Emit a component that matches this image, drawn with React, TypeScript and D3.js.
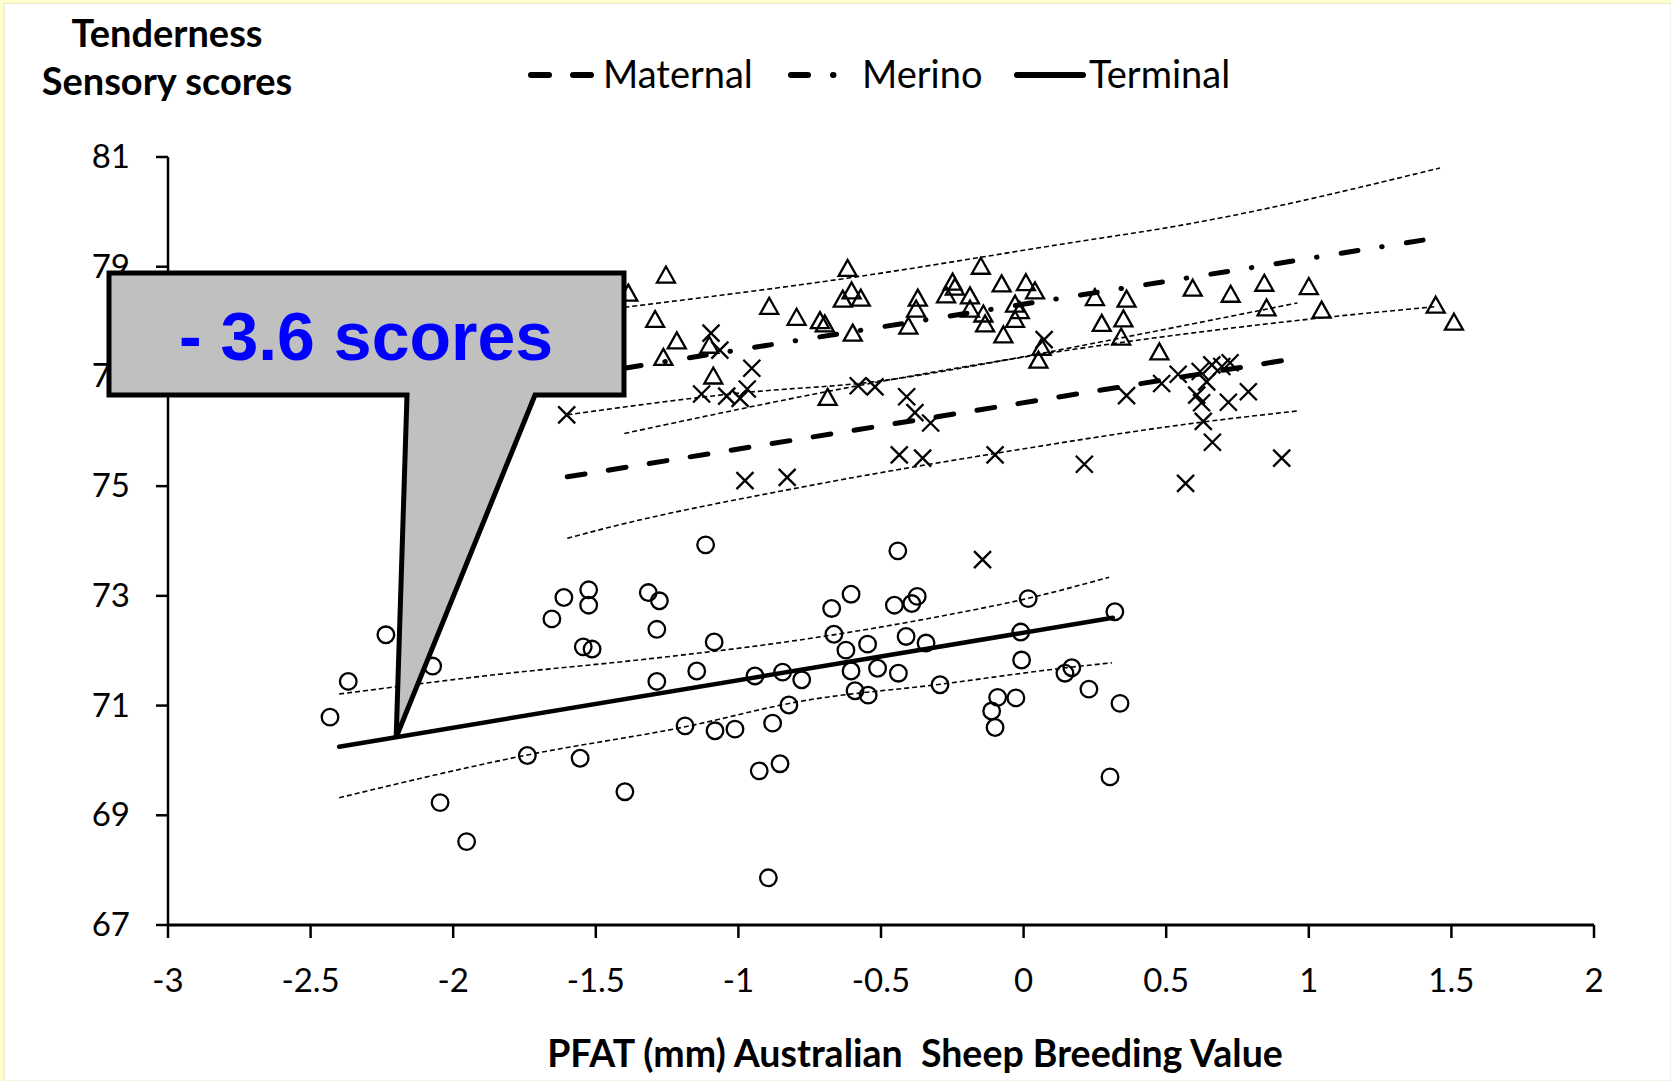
import React from "react";
import * as d3 from "d3";

// ---------- data ----------
const xTicks = [-3, -2.5, -2, -1.5, -1, -0.5, 0, 0.5, 1, 1.5, 2];
const yTicks = [67, 69, 71, 73, 75, 77, 79, 81];

// Terminal (circles)
const terminalPts: [number, number][] = [
  [-2.432, 70.79], [-2.368, 71.44], [-2.236, 72.29], [-2.072, 71.72], [-2.046, 69.23],
  [-1.953, 68.52], [-1.74, 70.09], [-1.654, 72.58], [-1.612, 72.97], [-1.555, 70.04],
  [-1.544, 72.07], [-1.525, 73.11], [-1.525, 72.83], [-1.513, 72.03], [-1.398, 69.43],
  [-1.316, 73.06], [-1.286, 72.39], [-1.286, 71.44], [-1.277, 72.91], [-1.187, 70.63],
  [-1.146, 71.63], [-1.115, 73.93], [-1.085, 72.16], [-1.082, 70.54], [-1.012, 70.57],
  [-0.942, 71.54], [-0.927, 69.81], [-0.895, 67.86], [-0.88, 70.68], [-0.854, 69.94],
  [-0.845, 71.61], [-0.823, 71.01], [-0.778, 71.47], [-0.673, 72.77], [-0.665, 72.3],
  [-0.623, 72.01], [-0.605, 73.03], [-0.605, 71.63], [-0.591, 71.27], [-0.547, 72.12],
  [-0.545, 71.19], [-0.512, 71.68], [-0.453, 72.83], [-0.441, 73.82], [-0.439, 71.59],
  [-0.412, 72.26], [-0.392, 72.86], [-0.373, 72.99], [-0.342, 72.14], [-0.293, 71.38],
  [-0.112, 70.9], [-0.1, 70.6], [-0.091, 71.15], [-0.027, 71.14], [-0.01, 72.34],
  [-0.007, 71.83], [0.016, 72.95], [0.145, 71.59], [0.169, 71.69], [0.229, 71.3],
  [0.303, 69.7], [0.32, 72.71], [0.338, 71.04],
];

// Maternal (crosses)
const maternalPts: [number, number][] = [
  [-1.602, 76.3], [-1.096, 77.79], [-1.065, 77.48], [-0.953, 77.15], [-1.129, 76.68],
  [-1.041, 76.64], [-0.994, 76.6], [-0.969, 76.77], [-0.58, 76.83], [-0.521, 76.81],
  [-0.41, 76.63], [-0.381, 76.34], [-0.326, 76.15], [-0.977, 75.1], [-0.829, 75.16],
  [-0.436, 75.57], [-0.354, 75.51], [-0.1, 75.57], [0.072, 77.67], [-0.144, 73.66],
  [0.361, 76.65], [0.213, 75.4], [0.484, 76.87], [0.542, 77.04], [0.619, 77.09],
  [0.642, 76.9], [0.607, 76.66], [0.624, 76.52], [0.66, 77.21], [0.695, 77.18],
  [0.724, 77.25], [0.718, 76.53], [0.788, 76.72], [0.63, 76.18], [0.662, 75.8],
  [0.568, 75.05], [0.905, 75.51],
];

// Merino (triangles)
const merinoPts: [number, number][] = [
  [-1.386, 78.5], [-1.254, 78.83], [-1.292, 78.02], [-1.216, 77.63], [-1.263, 77.33],
  [-1.102, 77.55], [-1.088, 76.99], [-0.892, 78.26], [-0.796, 78.06], [-0.714, 78.0],
  [-0.697, 77.94], [-0.617, 78.95], [-0.603, 78.54], [-0.634, 78.39], [-0.571, 78.41],
  [-0.599, 77.77], [-0.687, 76.6], [-0.371, 78.41], [-0.377, 78.21], [-0.404, 77.9],
  [-0.249, 78.7], [-0.241, 78.61], [-0.272, 78.47], [-0.15, 78.99], [-0.188, 78.45],
  [-0.188, 78.21], [-0.141, 78.12], [-0.135, 77.94], [-0.077, 78.67], [0.008, 78.69],
  [0.04, 78.54], [-0.03, 78.3], [-0.013, 78.18], [-0.03, 78.02], [-0.071, 77.74],
  [0.052, 77.28], [0.063, 77.51], [0.25, 78.42], [0.361, 78.39], [0.274, 77.95],
  [0.35, 78.03], [0.342, 77.7], [0.476, 77.43], [0.593, 78.59], [0.726, 78.48],
  [0.844, 78.68], [0.852, 78.23], [1.0, 78.62], [1.045, 78.19], [1.445, 78.28],
  [1.509, 77.97],
];

// Regression lines
const terminalLine: [number, number][] = [[-2.4, 70.25], [0.313, 72.6]];
const maternalLine: [number, number][] = [[-1.6, 75.17], [0.969, 77.34]];
const merinoLine: [number, number][] = [[-1.4, 77.15], [1.467, 79.54]];

// Confidence bands
const terminalUpper: [number, number][] = [[-2.4, 71.21], [-1.84, 71.57], [-1.3, 71.86], [-0.78, 72.2], [-0.3, 72.62], [0.02, 72.96], [0.3, 73.34]];
const terminalLower: [number, number][] = [[-2.4, 69.32], [-1.74, 70.1], [-1.19, 70.61], [-0.78, 71.08], [-0.29, 71.39], [0.15, 71.69], [0.31, 71.78]];
const maternalUpper: [number, number][] = [[-1.6, 76.3], [-0.99, 76.7], [-0.53, 76.9], [-0.01, 77.35], [0.34, 77.7], [0.96, 78.34]];
const maternalLower: [number, number][] = [[-1.6, 74.05], [-1.46, 74.24], [-0.78, 74.98], [-0.06, 75.63], [0.63, 76.17], [0.96, 76.37]];
const merinoUpper: [number, number][] = [[-1.4, 78.26], [-0.62, 78.79], [0.12, 79.4], [0.6, 79.8], [1.46, 80.8]];
const merinoLower: [number, number][] = [[-1.4, 75.96], [-0.53, 76.88], [0.12, 77.45], [1.03, 78.06], [1.44, 78.27]];

const legendLabels = ["Maternal", "Merino", "Terminal"];
const calloutText = "- 3.6 scores";
const calloutTip: [number, number] = [-2.2, 70.42];

// ---------- layout ----------
const W = 1671;
const H = 1081;
const X = d3.scaleLinear().domain([-3, 2]).range([168, 1594]);
const Y = d3.scaleLinear().domain([67, 81]).range([925, 157]);

const lineGen = d3.line<[number, number]>().x((d) => X(d[0])).y((d) => Y(d[1]));
const bandGen = d3
  .line<[number, number]>()
  .x((d) => X(d[0]))
  .y((d) => Y(d[1]))
  .curve(d3.curveMonotoneX);

const LATO = "Lato, 'Open Sans', sans-serif";
const MAT_DASH = "18 23.5";
const MER_DASH = "17 24 0.5 24.5";
const BAND_DASH = "5 3";

export default function App() {
  const bands = [terminalUpper, terminalLower, maternalUpper, maternalLower, merinoUpper, merinoLower];
  const [tx, ty] = [X(calloutTip[0]), Y(calloutTip[1])];
  const calloutPath = `M109,273 H624 V395 H535 L${tx},${ty} L407,395 H109 Z`;

  return (
    <div style={{ position: "absolute", left: 0, top: 0 }}>
      <svg width={W} height={H} style={{ display: "block" }}>
        <rect x={0} y={0} width={W} height={H} fill="#ffffcc" />
        <rect x={4} y={3.5} width={W - 4} height={H - 3.5} fill="#ffffff" stroke="#e6e6c8" strokeWidth={1} />

        {/* confidence bands */}
        {bands.map((b, i) => (
          <path key={i} d={bandGen(b) || ""} fill="none" stroke="#000" strokeWidth={1.6} strokeDasharray={BAND_DASH} />
        ))}

        {/* regression lines */}
        <path d={lineGen(maternalLine) || ""} fill="none" stroke="#000" strokeWidth={5} strokeDasharray={MAT_DASH} strokeLinecap="round" />
        <path d={lineGen(merinoLine) || ""} fill="none" stroke="#000" strokeWidth={5} strokeDasharray={MER_DASH} strokeLinecap="round" />
        <path d={lineGen(terminalLine) || ""} fill="none" stroke="#000" strokeWidth={4.5} strokeLinecap="round" />

        {/* markers */}
        {terminalPts.map((d, i) => (
          <circle key={`c${i}`} cx={X(d[0])} cy={Y(d[1])} r={8.3} fill="none" stroke="#000" strokeWidth={2.3} />
        ))}
        {maternalPts.map((d, i) => {
          const cx = X(d[0]);
          const cy = Y(d[1]);
          return (
            <path key={`x${i}`} d={`M${cx - 8.5},${cy - 8.5}L${cx + 8.5},${cy + 8.5}M${cx - 8.5},${cy + 8.5}L${cx + 8.5},${cy - 8.5}`} stroke="#000" strokeWidth={2.3} fill="none" />
          );
        })}
        {merinoPts.map((d, i) => {
          const cx = X(d[0]);
          const cy = Y(d[1]);
          return (
            <path key={`t${i}`} d={`M${cx},${cy - 9.5}L${cx + 9},${cy + 6.5}L${cx - 9},${cy + 6.5}Z`} stroke="#000" strokeWidth={2.3} fill="none" />
          );
        })}

        {/* axes */}
        <line x1={X(-3)} x2={X(-3)} y1={Y(81)} y2={Y(67)} stroke="#000" strokeWidth={2.5} />
        <line x1={X(-3)} x2={X(2)} y1={Y(67)} y2={Y(67)} stroke="#000" strokeWidth={3} />
        {yTicks.map((t) => (
          <g key={`yt${t}`}>
            <line x1={X(-3) - 12} x2={X(-3)} y1={Y(t)} y2={Y(t)} stroke="#000" strokeWidth={2.5} />
            <text x={130} y={Y(t) + 11} textAnchor="end" fontFamily={LATO} fontSize={33} fill="#000">
              {String(t)}
            </text>
          </g>
        ))}
        {xTicks.map((t) => (
          <g key={`xt${t}`}>
            <line x1={X(t)} x2={X(t)} y1={Y(67)} y2={Y(67) + 13} stroke="#000" strokeWidth={2.5} />
            <text x={X(t)} y={992} textAnchor="middle" fontFamily={LATO} fontSize={33} fill="#000">
              {String(t)}
            </text>
          </g>
        ))}

        {/* titles */}
        <text x={167} y={47} textAnchor="middle" fontFamily={LATO} fontWeight="bold" fontSize={38} fill="#000">
          Tenderness
        </text>
        <text x={167} y={95} textAnchor="middle" fontFamily={LATO} fontWeight="bold" fontSize={38} fill="#000">
          Sensory scores
        </text>
        <text x={915} y={1067} textAnchor="middle" fontFamily={LATO} fontWeight="bold" fontSize={37.5} fill="#000" style={{ whiteSpace: "pre" }}>
          {"PFAT (mm) Australian  Sheep Breeding Value"}
        </text>

        {/* legend */}
        <g>
          <line x1={531} x2={591} y1={75} y2={75} stroke="#000" strokeWidth={6} strokeDasharray="18 24" strokeLinecap="round" />
          <text x={603} y={88} fontFamily={LATO} fontSize={38} fill="#000">{legendLabels[0]}</text>
          <line x1={791} x2={834} y1={75} y2={75} stroke="#000" strokeWidth={6} strokeDasharray="17 25 0.5 30" strokeLinecap="round" />
          <text x={862} y={88} fontFamily={LATO} fontSize={38} fill="#000">{legendLabels[1]}</text>
          <line x1={1017} x2={1083} y1={75} y2={75} stroke="#000" strokeWidth={6} strokeLinecap="round" />
          <text x={1089} y={88} fontFamily={LATO} fontSize={38} fill="#000">{legendLabels[2]}</text>
        </g>

        {/* callout */}
        <path d={calloutPath} fill="#c0c0c0" stroke="#000" strokeWidth={5} strokeLinejoin="miter" />
        <text x={366} y={360} textAnchor="middle" fontFamily="'Liberation Sans', Arial, sans-serif" fontWeight="bold" fontSize={68} fill="#0000ff">
          {calloutText}
        </text>
      </svg>
    </div>
  );
}
